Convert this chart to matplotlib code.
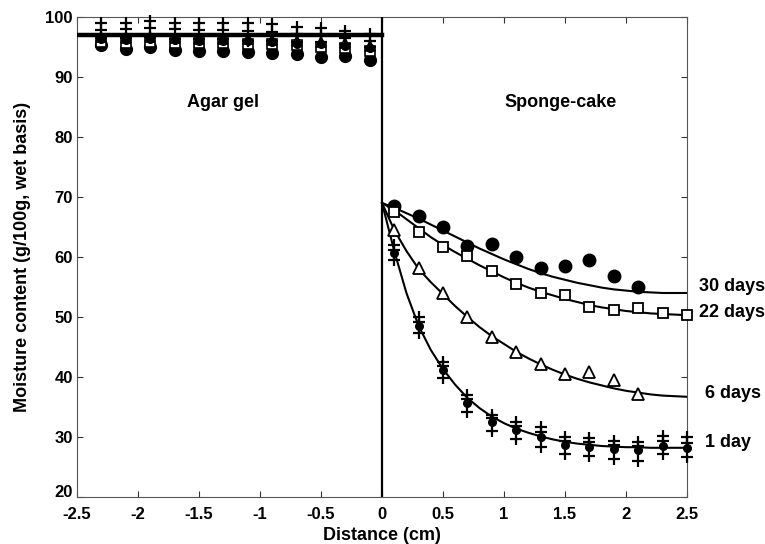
import matplotlib
matplotlib.use("Agg")
import matplotlib.pyplot as plt

plt.rcParams['font.family'] = ['Liberation Sans', 'DejaVu Sans']
plt.rcParams['font.weight'] = 'bold'

# ---------------- data ----------------
x_ticks = [-2.5, -2.0, -1.5, -1.0, -0.5, 0.0, 0.5, 1.0, 1.5, 2.0, 2.5]
x_tick_labels = ["-2.5", "-2", "-1.5", "-1", "-0.5", "0", "0.5", "1", "1.5", "2", "2.5"]
y_ticks = [20, 30, 40, 50, 60, 70, 80, 90, 100]

# Agar gel side (measured)
agar_x = [-2.3, -2.1, -1.9, -1.7, -1.5, -1.3, -1.1, -0.9, -0.7, -0.5, -0.3, -0.1]
agar_1d_plus_hi = [99.0, 99.0, 99.3, 99.0, 99.0, 99.0, 99.0, 98.8, 98.3, 98.2, 97.7, 97.2]
agar_1d_plus_mid = [97.8, 98.0, 98.2, 98.0, 97.8, 97.8, 97.7, 97.5, 97.2, 97.0, 96.5, 96.0]
agar_1d_plus_lo = [96.5, 96.5, 96.6, 96.4, 96.3, 96.3, 96.0, 96.0, 95.8, 95.8, 95.5, 95.0]
agar_1d_dot = [96.3, 96.2, 96.3, 96.2, 96.0, 96.0, 96.0, 95.8, 95.5, 95.5, 95.2, 94.8]
agar_6d = [96.6, 96.5, 96.6, 96.5, 96.4, 96.4, 96.3, 96.2, 96.0, 95.8, 95.6, 95.2]
agar_22d = [95.8, 95.7, 95.8, 95.7, 95.7, 95.7, 95.5, 95.5, 95.3, 95.0, 94.8, 94.3]
agar_30d = [95.3, 94.7, 95.0, 94.5, 94.3, 94.3, 94.2, 94.0, 93.8, 93.3, 93.5, 92.8]
agar_curve_x = [-2.5, 0.0]
agar_curve_y = [97.0, 97.0]

# Sponge-cake side (measured)
cake_x = [0.1, 0.3, 0.5, 0.7, 0.9, 1.1, 1.3, 1.5, 1.7, 1.9, 2.1, 2.3, 2.5]
cake_1d_plus_hi = [62.0, 50.0, 42.5, 37.0, 33.7, 32.5, 31.7, 30.0, 29.8, 29.3, 29.2, 30.2, 30.0]
cake_1d_plus_mid = [61.2, 49.2, 41.8, 36.4, 33.1, 31.8, 30.8, 29.4, 29.1, 28.7, 28.5, 29.3, 29.0]
cake_1d_plus_lo = [59.5, 47.3, 39.8, 34.2, 31.0, 29.7, 28.3, 27.2, 26.8, 26.3, 26.0, 27.2, 26.7]
cake_1d_dot = [60.7, 48.5, 41.2, 35.7, 32.5, 31.2, 30.0, 28.7, 28.3, 28.0, 27.8, 28.5, 28.2]

cake_6d_x = [0.1, 0.3, 0.5, 0.7, 0.9, 1.1, 1.3, 1.5, 1.7, 1.9, 2.1]
cake_6d = [64.5, 58.2, 54.0, 50.0, 46.7, 44.1, 42.2, 40.5, 40.8, 39.5, 37.2]

cake_22d_x = [0.1, 0.3, 0.5, 0.7, 0.9, 1.1, 1.3, 1.5, 1.7, 1.9, 2.1, 2.3, 2.5]
cake_22d = [67.5, 64.2, 61.7, 60.2, 57.7, 55.5, 54.0, 53.7, 51.7, 51.2, 51.5, 50.7, 50.3]

cake_30d_x = [0.1, 0.3, 0.5, 0.7, 0.9, 1.1, 1.3, 1.5, 1.7, 1.9, 2.1]
cake_30d = [68.5, 66.8, 65.0, 61.8, 62.2, 60.0, 58.2, 58.5, 59.5, 56.8, 55.0]

# model curves
curve_x = [0.0, 0.1, 0.2, 0.3, 0.4, 0.5, 0.6, 0.7, 0.8, 0.9, 1.0, 1.1, 1.2,
           1.3, 1.4, 1.5, 1.6, 1.7, 1.8, 1.9, 2.0, 2.1, 2.2, 2.3, 2.4, 2.5]
curve_1d = [69.0, 61.0, 54.0, 48.5, 44.5, 41.3, 38.7, 36.5, 34.8, 33.4, 32.3, 31.4, 30.7,
            30.1, 29.6, 29.2, 28.9, 28.7, 28.5, 28.4, 28.3, 28.3, 28.2, 28.2, 28.2, 28.2]
curve_6d = [69.0, 64.5, 61.0, 58.0, 55.8, 53.8, 51.8, 50.0, 48.3, 46.8, 45.5, 44.2, 43.1,
            42.1, 41.2, 40.4, 39.7, 39.1, 38.6, 38.1, 37.7, 37.4, 37.1, 36.9, 36.8, 36.7]
curve_22d = [69.0, 67.8, 66.3, 64.8, 63.3, 62.0, 60.8, 59.7, 58.6, 57.6, 56.6, 55.7, 54.9,
             54.2, 53.6, 53.0, 52.5, 52.0, 51.6, 51.3, 51.0, 50.8, 50.6, 50.5, 50.4, 50.3]
curve_30d = [69.0, 68.2, 67.3, 66.4, 65.4, 64.4, 63.4, 62.4, 61.4, 60.5, 59.6, 58.8, 58.0,
             57.3, 56.7, 56.2, 55.7, 55.3, 54.9, 54.6, 54.4, 54.2, 54.1, 54.0, 54.0, 54.0]

curve_labels = ["30 days", "22 days", "6 days", "1 day"]
curve_label_y = [55.0, 50.7, 37.3, 29.0]
curve_label_x = [2.6, 2.6, 2.65, 2.65]

# ---------------- plot ----------------
fig = plt.figure(figsize=(7.65, 5.44), dpi=100)
ax = fig.add_axes([0.1007, 0.0864, 0.7974, 0.8824])

K = 'black'
plus_kw = dict(linestyle='none', marker='+', ms=9, mew=1.6, color=K, clip_on=False, zorder=4)
dot_kw = dict(linestyle='none', marker='o', ms=5.5, mfc=K, mec=K, clip_on=False, zorder=4)

# agar gel
ax.plot(agar_curve_x, agar_curve_y, color=K, lw=3.2, zorder=3)
ax.plot(agar_x, agar_30d, linestyle='none', marker='o', ms=8.5, mfc=K, mec=K, zorder=4)
ax.plot(agar_x, agar_22d, linestyle='none', marker='s', ms=7, mfc='white', mec=K, mew=1.2, zorder=4)
ax.plot(agar_x, agar_6d, linestyle='none', marker='^', ms=7, mfc='white', mec=K, mew=1.2, zorder=4)
ax.plot(agar_x, agar_1d_dot, **dot_kw)
ax.plot(agar_x, agar_1d_plus_hi, **plus_kw)
ax.plot(agar_x, agar_1d_plus_mid, **plus_kw)
ax.plot(agar_x, agar_1d_plus_lo, **plus_kw)

# sponge-cake curves
for cy in (curve_1d, curve_6d, curve_22d, curve_30d):
    ax.plot(curve_x, cy, color=K, lw=1.5, zorder=3)

ax.plot(cake_30d_x, cake_30d, linestyle='none', marker='o', ms=9, mfc=K, mec=K, zorder=5, clip_on=False)
ax.plot(cake_22d_x, cake_22d, linestyle='none', marker='s', ms=7.5, mfc='white', mec=K, mew=1.3, zorder=5, clip_on=False)
ax.plot(cake_6d_x, cake_6d, linestyle='none', marker='^', ms=8.5, mfc='white', mec=K, mew=1.3, zorder=5, clip_on=False)
ax.plot(cake_x, cake_1d_dot, **dot_kw)
ax.plot(cake_x, cake_1d_plus_hi, **plus_kw)
ax.plot(cake_x, cake_1d_plus_mid, **plus_kw)
ax.plot(cake_x, cake_1d_plus_lo, **plus_kw)

# divider at x = 0
ax.axvline(0, color=K, lw=1.6, zorder=3)

# texts
ax.text(-1.3, 85.8, "Agar gel", ha='center', va='center', fontsize=13, fontweight='bold')
ax.text(1.46, 85.8, "Sponge-cake", ha='center', va='center', fontsize=13, fontweight='bold')
for lab, lx, ly in zip(curve_labels, curve_label_x, curve_label_y):
    ax.text(lx, ly, lab, ha='left', va='center', fontsize=13, fontweight='bold', clip_on=False)

ax.set_xlim(-2.5, 2.5)
ax.set_ylim(20, 100)
ax.set_xticks(x_ticks)
ax.set_xticklabels(x_tick_labels)
ax.set_yticks(y_ticks)
ax.tick_params(direction='in', length=4, width=0.8, top=True, right=True,
               labelsize=12, colors='#333333', labelcolor='black')
ax.tick_params(axis='x', pad=7)
ax.tick_params(axis='y', pad=3)
for lbl in ax.get_xticklabels() + ax.get_yticklabels():
    lbl.set_fontweight('bold')
# lift the lowest y label slightly, as in the reference
ax.get_yticklabels()[0].set_va('baseline')
for sp in ax.spines.values():
    sp.set_linewidth(0.8)
    sp.set_color('#555555')

ax.set_xlabel("Distance (cm)", fontsize=13, fontweight='bold', labelpad=4)
ax.set_ylabel("Moisture content (g/100g, wet basis)", fontsize=13, fontweight='bold', labelpad=10)

fig.savefig("out.png", dpi=100)
